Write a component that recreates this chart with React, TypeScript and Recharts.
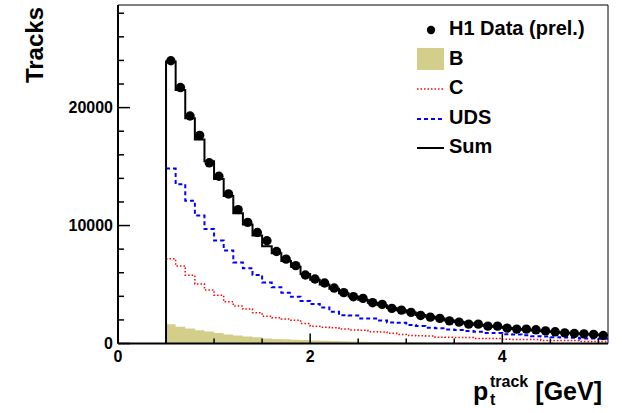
import React from 'react';
import { ComposedChart, Area, Line, Scatter, XAxis, YAxis, ReferenceArea, Legend } from 'recharts';

// bin centres of p_t^track [GeV], bin width 0.1
const binCenters = [
  0.55, 0.65, 0.75, 0.85, 0.95,
  1.05, 1.15, 1.25, 1.35, 1.45, 1.55, 1.65, 1.75, 1.85, 1.95,
  2.05, 2.15, 2.25, 2.35, 2.45, 2.55, 2.65, 2.75, 2.85, 2.95,
  3.05, 3.15, 3.25, 3.35, 3.45, 3.55, 3.65, 3.75, 3.85, 3.95,
  4.05, 4.15, 4.25, 4.35, 4.45, 4.55, 4.65, 4.75, 4.85, 4.95,
  5.05,
];
const binHalfWidth = 0.05;

const h1Data = [
  23970, 21700, 19290, 17640, 15320,
  14180, 12680, 11350, 10270, 9410, 8710, 7800, 7150, 6600, 5810,
  5470, 5130, 4700, 4310, 3970, 3830, 3460, 3320, 2980, 2830,
  2640, 2380, 2240, 2130, 1920, 1810, 1640, 1640, 1470, 1470,
  1300, 1220, 1220, 1160, 1070, 990, 900, 850, 820, 770,
  680,
];
const bVals = [
  1640, 1420, 1280, 1130, 1020,
  880, 770, 680, 600, 520, 430, 390, 350, 320, 290,
  260, 235, 210, 190, 170, 150, 135, 120, 105, 95,
  85, 75, 68, 60, 54, 48, 43, 38, 34, 30,
  27, 24, 22, 20, 18, 16, 14, 13, 12, 11,
  10,
];
const cVals = [
  7180, 6580, 5790, 5050, 4540,
  4090, 3540, 3170, 2920, 2600, 2320, 2180, 2080, 1980, 1700,
  1470, 1380, 1340, 1220, 1140, 1120, 1000, 980, 860, 770,
  680, 650, 640, 540, 520, 510, 500, 430, 420, 420,
  350, 340, 335, 330, 260, 255, 250, 245, 175, 170,
  165,
];
const udsVals = [
  14830, 13500, 12110, 10860, 9700,
  8730, 7880, 6870, 6380, 5810, 5170, 4770, 4300, 3960, 3600,
  3340, 3060, 2690, 2400, 2380, 2130, 2120, 1950, 1780, 1750,
  1560, 1480, 1330, 1300, 1190, 1150, 1050, 1000, 900, 880,
  780, 760, 690, 620, 600, 520, 510, 490, 430, 420,
  400,
];
const sumVals = [
  23900, 21500, 19100, 17300, 15450,
  13950, 12500, 11050, 10100, 9150, 8250, 7650, 7000, 6500, 5900,
  5400, 5000, 4650, 4250, 3980, 3720, 3450, 3250, 3000, 2820,
  2620, 2420, 2260, 2110, 1950, 1820, 1700, 1600, 1490, 1420,
  1310, 1240, 1170, 1100, 1040, 970, 920, 870, 810, 770,
  720,
];

const xTicks = [0, 0.5, 1, 1.5, 2, 2.5, 3, 3.5, 4, 4.5, 5];
const xLabels = [0, 2, 4];
const yTicks = [0, 2000, 4000, 6000, 8000, 10000, 12000, 14000, 16000, 18000, 20000, 22000, 24000, 26000, 28000];
const yLabels = [0, 10000, 20000];

const X_MAX = 5.1;
const Y_MAX = 28700;
const FONT = '"Liberation Sans", Arial, Helvetica, sans-serif';
const B_COLOR = '#d3cf8a';

// histogram edges table for the step curves
const last = binCenters.length - 1;
const histRows: any[] = [{ x: binCenters[0] - binHalfWidth, sum: 0 }];
binCenters.forEach((c, i) => {
  histRows.push({ x: c - binHalfWidth, b: bVals[i], c: cVals[i], uds: udsVals[i], sum: sumVals[i] });
});
histRows.push({ x: binCenters[last] + binHalfWidth, b: bVals[last], c: cVals[last], uds: udsVals[last], sum: sumVals[last] });

const pointRows = binCenters.map((c, i) => ({ x: c, h1: h1Data[i] }));

const XTick = ({ x, y, payload }: any) => {
  const major = xLabels.includes(payload.value);
  return (
    <g>
      <line x1={x} x2={x} y1={y} y2={y - (major ? 10 : 5)} stroke="#000" strokeWidth={1.5} />
      {major && (
        <text x={x} y={y + 18} textAnchor="middle" fontFamily={FONT} fontWeight="bold" fontSize={16} fill="#000">
          {payload.value}
        </text>
      )}
    </g>
  );
};

const YTick = ({ x, y, payload }: any) => {
  const major = yLabels.includes(payload.value);
  return (
    <g>
      <line x1={x} x2={x + (major ? 12 : 6)} y1={y} y2={y} stroke="#000" strokeWidth={1.5} />
      {major && (
        <text x={x - 5} y={y} dy="0.36em" textAnchor="end" fontFamily={FONT} fontWeight="bold" fontSize={16} fill="#000">
          {payload.value}
        </text>
      )}
    </g>
  );
};

const XTitle = () => (
  <g fontFamily={FONT} fontWeight="bold" fill="#000">
    <text x={473} y={400} fontSize={25}>p</text>
    <text x={490} y={387} fontSize={16}>track</text>
    <text x={490} y={405} fontSize={16}>t</text>
    <text x={602} y={400} fontSize={25} textAnchor="end">[GeV]</text>
  </g>
);

const YTitle = () => (
  <text x={43} y={7} transform="rotate(-90 43 7)" textAnchor="end" fontFamily={FONT} fontWeight="bold" fontSize={24} fill="#000">
    Tracks
  </text>
);

const legendItems = [
  { name: 'H1 Data (prel.)', kind: 'dot' },
  { name: 'B', kind: 'box' },
  { name: 'C', kind: 'dotted' },
  { name: 'UDS', kind: 'dashed' },
  { name: 'Sum', kind: 'solid' },
];

const LegendSymbol = ({ kind }: { kind: string }) => (
  <svg width={27} height={29} style={{ display: 'block' }}>
    {kind === 'dot' && <circle cx={14} cy={16} r={4.2} fill="#000" />}
    {kind === 'box' && <rect x={0} y={4} width={27} height={22} fill={B_COLOR} />}
    {kind === 'dotted' && <line x1={0} x2={27} y1={16} y2={16} stroke="#ff0000" strokeWidth={1.5} strokeDasharray="1.5 2" />}
    {kind === 'dashed' && <line x1={0} x2={27} y1={16} y2={16} stroke="#0000ff" strokeWidth={2} strokeDasharray="4 3" />}
    {kind === 'solid' && <line x1={0} x2={27} y1={16} y2={16} stroke="#000" strokeWidth={2} />}
  </svg>
);

const renderLegend = () => (
  <div style={{ fontFamily: FONT, fontWeight: 'bold', fontSize: 20, color: '#000' }}>
    {legendItems.map((it) => (
      <div key={it.name} style={{ display: 'flex', alignItems: 'center', height: 29.5 }}>
        <LegendSymbol kind={it.kind} />
        <span style={{ marginLeft: 5, whiteSpace: 'nowrap' }}>{it.name}</span>
      </div>
    ))}
  </div>
);

export default function App() {
  return (
    <div style={{ position: 'absolute', left: 0, top: 0, background: '#fff' }}>
      <ComposedChart
        width={623}
        height={413}
        data={histRows}
        margin={{ top: 5, right: 15, left: 58, bottom: 39.5 }}
      >
        <XAxis
          dataKey="x"
          type="number"
          domain={[0, X_MAX]}
          ticks={xTicks}
          allowDataOverflow
          height={30}
          axisLine={{ stroke: '#000', strokeWidth: 2 }}
          tickLine={false}
          tickSize={0}
          tickMargin={0}
          tick={<XTick />}
          interval={0}
          label={<XTitle />}
        />
        <YAxis
          type="number"
          domain={[0, Y_MAX]}
          ticks={yTicks}
          allowDataOverflow
          width={60}
          axisLine={{ stroke: '#000', strokeWidth: 2 }}
          tickLine={false}
          tickSize={0}
          tickMargin={0}
          tick={<YTick />}
          interval={0}
          label={<YTitle />}
        />
        <ReferenceArea x1={0} x2={X_MAX} y1={0} y2={Y_MAX} fill="none" stroke="#000" strokeWidth={1} ifOverflow="visible" />
        <Area
          dataKey="b"
          type="stepAfter"
          fill={B_COLOR}
          fillOpacity={1}
          stroke="none"
          isAnimationActive={false}
          activeDot={false}
        />
        <Line dataKey="c" type="stepAfter" stroke="#ff0000" strokeWidth={1.5} strokeDasharray="1.5 2" dot={false} activeDot={false} isAnimationActive={false} />
        <Line dataKey="uds" type="stepAfter" stroke="#0000ff" strokeWidth={2} strokeDasharray="4 3" dot={false} activeDot={false} isAnimationActive={false} />
        <Line dataKey="sum" type="stepAfter" stroke="#000" strokeWidth={2} dot={false} activeDot={false} isAnimationActive={false} />
        <Scatter
          data={pointRows}
          dataKey="h1"
          fill="#000"
          isAnimationActive={false}
          shape={(p: any) => <circle cx={p.cx} cy={p.cy} r={4.7} fill="#000" />}
        />
        <Legend
          layout="vertical"
          align="center"
          verticalAlign="middle"
          content={renderLegend}
          wrapperStyle={{ left: 417, top: 14, width: 200, height: 150 }}
        />
      </ComposedChart>
    </div>
  );
}
